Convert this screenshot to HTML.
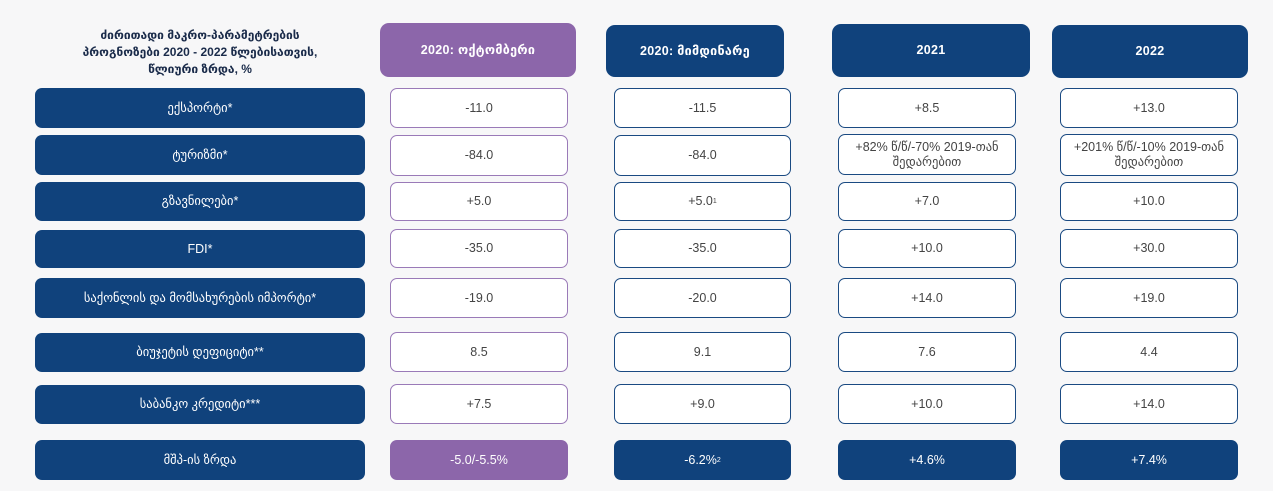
<!DOCTYPE html>
<html><head><meta charset="utf-8"><style>
body{margin:0;width:1273px;height:491px;background:#f7f7f8;font-family:"Liberation Sans","DejaVu Sans",sans-serif;position:relative;overflow:hidden}
.b{position:absolute;box-sizing:border-box;display:flex;align-items:center;justify-content:center;text-align:center;border-radius:7px;font-size:12.5px;line-height:15px}
.l{background:#10427c;color:#fff;left:35px;width:330px}
.h{background:#10427c;color:#fff;font-weight:bold;border-radius:9px;letter-spacing:0.3px}
.p{background:#8c66aa}
.v{background:#fff;color:#444;border:1.5px solid #1a4a82}
.vp{border-color:#9a7ab8}
.f{background:#10427c;color:#fff;border:none}
.fp{background:#8c66aa;color:#fff;border:none}
.t{position:absolute;left:80px;width:240px;top:27px;text-align:center;font-weight:bold;font-size:12px;line-height:17px;color:#1a2b4a}
</style></head><body>
<div class="t">ძირითადი მაკრო-პარამეტრების პროგნოზები 2020 - 2022 წლებისათვის, წლიური ზრდა, %</div>
<div class="b h p" style="left:380px;top:23px;width:196px;height:54px">2020: ოქტომბერი</div>
<div class="b h" style="left:606px;top:25px;width:178px;height:52px">2020: მიმდინარე</div>
<div class="b h" style="left:832px;top:24px;width:198px;height:53px">2021</div>
<div class="b h" style="left:1052px;top:25px;width:196px;height:53px">2022</div>

<div class="b l" style="top:88px;height:40px">ექსპორტი*</div>
<div class="b l" style="top:135px;height:40px">ტურიზმი*</div>
<div class="b l" style="top:182px;height:39px">გზავნილები*</div>
<div class="b l" style="top:230px;height:38px">FDI*</div>
<div class="b l" style="top:278px;height:40px">საქონლის და მომსახურების იმპორტი*</div>
<div class="b l" style="top:333px;height:39px">ბიუჯეტის დეფიციტი**</div>
<div class="b l" style="top:385px;height:39px">საბანკო კრედიტი***</div>
<div class="b l" style="top:440px;height:40px">მშპ-ის ზრდა</div>

<div class="b v vp" style="left:390px;top:88px;width:178px;height:40px">-11.0</div>
<div class="b v vp" style="left:390px;top:135px;width:178px;height:41px">-84.0</div>
<div class="b v vp" style="left:390px;top:182px;width:178px;height:39px">+5.0</div>
<div class="b v vp" style="left:390px;top:229px;width:178px;height:39px">-35.0</div>
<div class="b v vp" style="left:390px;top:278px;width:178px;height:40px">-19.0</div>
<div class="b v vp" style="left:390px;top:332px;width:178px;height:40px">8.5</div>
<div class="b v vp" style="left:390px;top:384px;width:178px;height:40px">+7.5</div>
<div class="b fp" style="left:390px;top:440px;width:178px;height:40px">-5.0/-5.5%</div>

<div class="b v" style="left:614px;top:88px;width:177px;height:40px">-11.5</div>
<div class="b v" style="left:614px;top:135px;width:177px;height:41px">-84.0</div>
<div class="b v" style="left:614px;top:182px;width:177px;height:39px">+5.0<sup style="font-size:7px">1</sup></div>
<div class="b v" style="left:614px;top:229px;width:177px;height:39px">-35.0</div>
<div class="b v" style="left:614px;top:278px;width:177px;height:40px">-20.0</div>
<div class="b v" style="left:614px;top:332px;width:177px;height:40px">9.1</div>
<div class="b v" style="left:614px;top:384px;width:177px;height:40px">+9.0</div>
<div class="b f" style="left:614px;top:440px;width:177px;height:40px">-6.2%<sup style="font-size:7px">2</sup></div>

<div class="b v" style="left:838px;top:88px;width:178px;height:40px">+8.5</div>
<div class="b v" style="left:838px;top:134px;width:178px;height:41px;padding:0 8px">+82% წ/წ/-70% 2019-თან შედარებით</div>
<div class="b v" style="left:838px;top:182px;width:178px;height:39px">+7.0</div>
<div class="b v" style="left:838px;top:229px;width:178px;height:39px">+10.0</div>
<div class="b v" style="left:838px;top:278px;width:178px;height:40px">+14.0</div>
<div class="b v" style="left:838px;top:332px;width:178px;height:40px">7.6</div>
<div class="b v" style="left:838px;top:384px;width:178px;height:40px">+10.0</div>
<div class="b f" style="left:838px;top:440px;width:178px;height:40px">+4.6%</div>

<div class="b v" style="left:1060px;top:88px;width:178px;height:40px">+13.0</div>
<div class="b v" style="left:1060px;top:134px;width:178px;height:42px;padding:0 12px">+201% წ/წ/-10% 2019-თან შედარებით</div>
<div class="b v" style="left:1060px;top:182px;width:178px;height:39px">+10.0</div>
<div class="b v" style="left:1060px;top:229px;width:178px;height:39px">+30.0</div>
<div class="b v" style="left:1060px;top:278px;width:178px;height:40px">+19.0</div>
<div class="b v" style="left:1060px;top:332px;width:178px;height:40px">4.4</div>
<div class="b v" style="left:1060px;top:384px;width:178px;height:40px">+14.0</div>
<div class="b f" style="left:1060px;top:440px;width:178px;height:40px">+7.4%</div>
</body></html>
